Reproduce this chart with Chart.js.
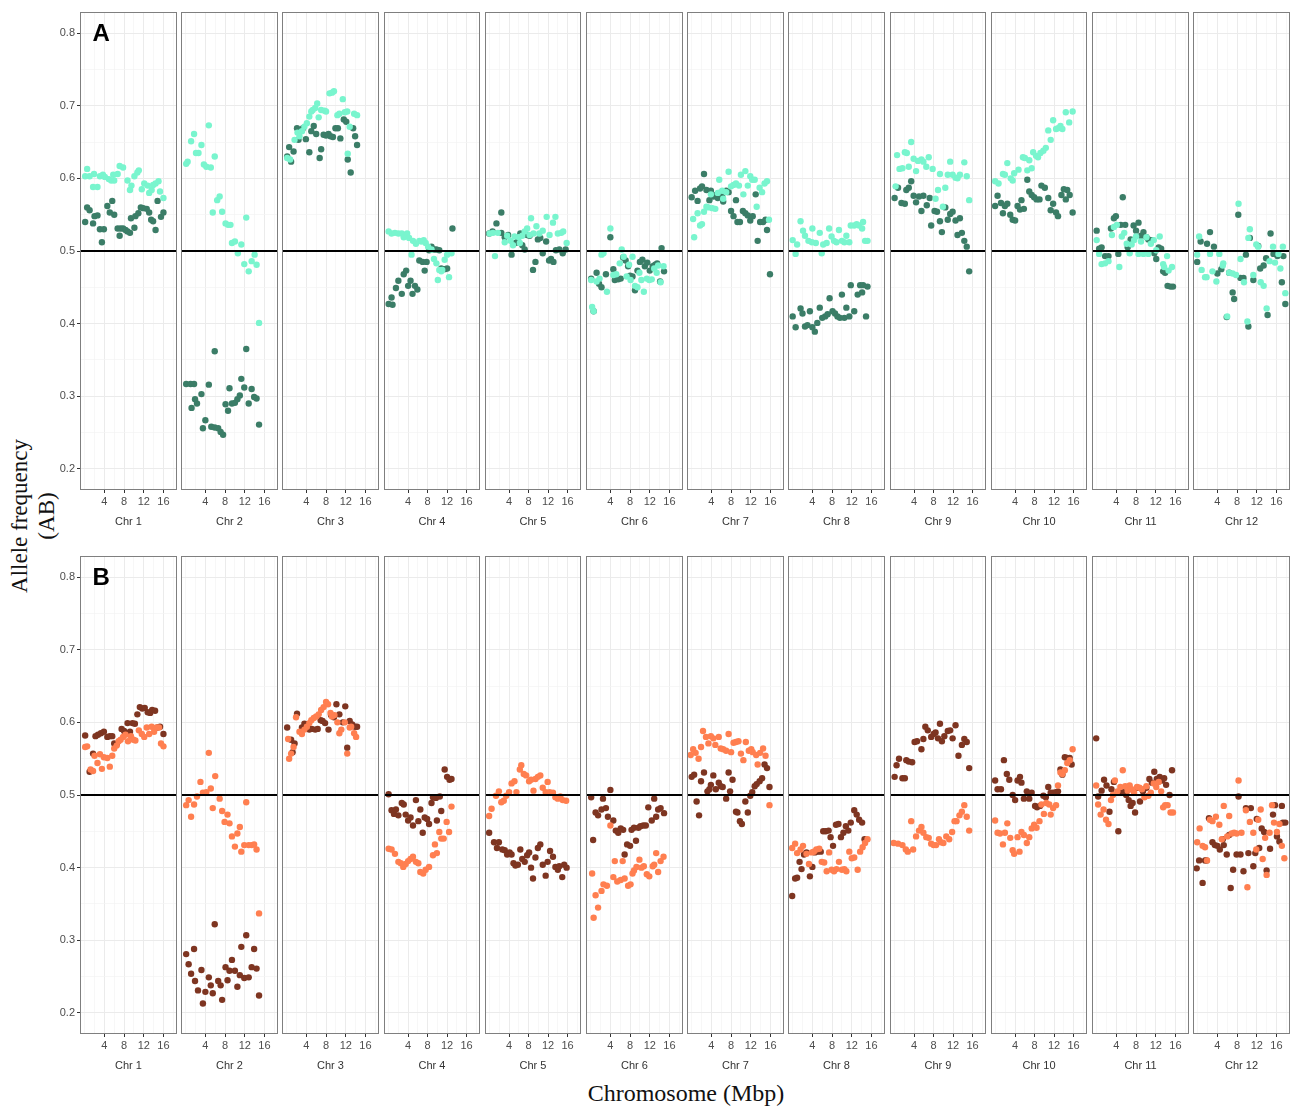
<!DOCTYPE html>
<html>
<head>
<meta charset="utf-8">
<script src="https://cdn.jsdelivr.net/npm/chart.js@4.4.1/dist/chart.umd.min.js"></script>
<style>
  body { margin: 0; background: #fff; }
  #page { position: relative; width: 1291px; height: 1106px; overflow: hidden; background: #fff; }
  .facet { position: absolute; }
  .tag { position: absolute; font: bold 24px/24px "Liberation Sans", Arial, sans-serif; color: #000; }
  .ytitle { position: absolute; left: 33px; top: 516px; transform: translate(-50%, -50%) rotate(-90deg);
            font: 23px/26.5px "Liberation Serif", "Times New Roman", serif; text-align: center; white-space: nowrap; color: #111; }
  .xtitle { position: absolute; left: 686px; top: 1081px; transform: translateX(-50%);
            font: 24px/24px "Liberation Serif", "Times New Roman", serif; white-space: nowrap; color: #111; }
</style>
</head>
<body>
<div id="page">
  <div class="ytitle">Allele frequency<br>(AB)</div>
  <div class="xtitle">Chromosome (Mbp)</div>
</div>
<script>
// ---- axis / category data ----
const chromosomes = ['Chr 1','Chr 2','Chr 3','Chr 4','Chr 5','Chr 6','Chr 7','Chr 8','Chr 9','Chr 10','Chr 11','Chr 12'];
const xGrid = [0, 2, 4, 6, 8, 10, 12, 14, 16, 18];
const xLabels = [4, 8, 12, 16];
const yGrid = [0.2, 0.25, 0.3, 0.35, 0.4, 0.45, 0.5, 0.55, 0.6, 0.65, 0.7, 0.75, 0.8];
const yLabels = [0.2, 0.3, 0.4, 0.5, 0.6, 0.7, 0.8];
const refLine = 0.5;

// ---- panel A : [position Mbp, allele frequency] ----
const a1Light = [[0.5,0.613],[0.1,0.603],[1.0,0.603],[1.9,0.606],[1.7,0.588],[2.6,0.588],[3.1,0.603],[3.7,0.605],[4.1,0.602],[4.9,0.599],[5.4,0.597],[6.0,0.597],[5.8,0.605],[6.7,0.606],[7.1,0.617],[7.8,0.615],[8.7,0.597],[9.2,0.584],[9.5,0.590],[10.1,0.603],[10.7,0.608],[11.0,0.611],[11.6,0.585],[12.1,0.593],[12.8,0.590],[13.1,0.580],[13.6,0.584],[13.9,0.591],[14.4,0.593],[15.0,0.596],[15.3,0.582],[16.0,0.573]];
const a1Dark = [[0.1,0.540],[0.5,0.560],[1.0,0.556],[1.7,0.538],[2.0,0.548],[2.6,0.549],[3.1,0.530],[3.5,0.512],[3.9,0.530],[4.6,0.562],[5.1,0.553],[5.6,0.569],[6.0,0.550],[6.7,0.531],[7.1,0.521],[7.3,0.531],[7.8,0.531],[8.3,0.529],[8.7,0.527],[9.2,0.525],[9.4,0.545],[10.1,0.532],[10.3,0.548],[10.9,0.552],[11.4,0.560],[11.9,0.559],[12.6,0.558],[13.1,0.553],[13.5,0.543],[13.9,0.541],[14.4,0.529],[14.8,0.569],[15.5,0.547],[16.0,0.553]];
const a2Light = [[0.1,0.620],[0.4,0.623],[1.1,0.651],[1.7,0.661],[2.1,0.635],[2.6,0.635],[3.2,0.646],[3.7,0.619],[4.2,0.616],[4.7,0.673],[5.1,0.615],[5.9,0.630],[5.5,0.553],[6.4,0.570],[6.9,0.575],[7.4,0.554],[8.1,0.538],[8.6,0.536],[9.1,0.536],[9.4,0.511],[10.0,0.513],[10.6,0.497],[11.3,0.509],[11.9,0.482],[12.3,0.546],[12.8,0.472],[13.4,0.486],[14.0,0.495],[14.4,0.481],[14.9,0.401]];
const a2Dark = [[0.1,0.317],[1.0,0.317],[1.7,0.317],[1.2,0.284],[1.9,0.296],[2.3,0.290],[3.2,0.303],[4.7,0.316],[4.0,0.267],[3.5,0.256],[5.2,0.258],[5.9,0.257],[5.9,0.362],[6.6,0.256],[7.1,0.251],[7.6,0.247],[8.1,0.289],[8.6,0.280],[8.9,0.311],[9.4,0.290],[10.0,0.291],[10.5,0.296],[11.0,0.301],[11.3,0.324],[11.9,0.312],[12.3,0.365],[12.8,0.290],[13.4,0.310],[13.9,0.299],[14.4,0.297],[14.9,0.261]];
const a3Light = [[0.1,0.628],[0.7,0.626],[1.6,0.653],[2.2,0.663],[2.6,0.658],[3.1,0.665],[3.6,0.671],[4.1,0.676],[4.6,0.685],[5.0,0.692],[5.3,0.694],[5.8,0.697],[6.2,0.703],[6.5,0.684],[7.0,0.694],[7.7,0.693],[8.0,0.692],[8.7,0.717],[9.2,0.718],[9.6,0.720],[10.3,0.687],[10.7,0.689],[11.4,0.709],[11.8,0.691],[12.3,0.692],[12.4,0.634],[12.8,0.671],[13.7,0.689],[14.3,0.687]];
const a3Dark = [[0.1,0.630],[0.5,0.643],[0.9,0.623],[1.4,0.637],[2.1,0.669],[2.4,0.653],[2.8,0.665],[3.3,0.669],[3.9,0.654],[4.6,0.636],[5.0,0.665],[5.5,0.672],[6.0,0.661],[6.7,0.628],[7.0,0.640],[7.5,0.660],[8.0,0.659],[8.5,0.661],[8.9,0.658],[9.4,0.657],[9.9,0.669],[10.4,0.669],[10.9,0.655],[11.6,0.681],[12.1,0.678],[12.4,0.626],[13.0,0.608],[13.5,0.669],[13.9,0.658],[14.3,0.646]];
const a4Light = [[0.0,0.527],[0.6,0.524],[1.3,0.525],[2.0,0.524],[2.7,0.524],[3.1,0.519],[3.8,0.524],[4.2,0.518],[4.7,0.495],[5.0,0.514],[5.6,0.510],[6.3,0.514],[6.7,0.513],[7.2,0.515],[7.6,0.511],[8.1,0.506],[8.8,0.502],[9.3,0.489],[9.8,0.483],[10.1,0.460],[10.4,0.474],[10.8,0.472],[11.0,0.474],[11.5,0.488],[12.0,0.495],[12.4,0.464],[12.9,0.497]];
const a4Dark = [[0.0,0.427],[0.8,0.426],[0.6,0.436],[1.5,0.449],[2.0,0.459],[2.7,0.441],[3.1,0.468],[3.6,0.473],[4.0,0.452],[4.5,0.459],[4.9,0.441],[5.4,0.452],[5.9,0.447],[6.3,0.487],[7.0,0.485],[7.4,0.473],[7.8,0.485],[8.3,0.501],[8.8,0.506],[9.3,0.502],[9.8,0.502],[10.4,0.501],[10.8,0.476],[11.5,0.475],[12.0,0.476],[13.1,0.531]];
const a5Light = [[0.0,0.524],[0.7,0.525],[1.1,0.493],[1.7,0.525],[3.1,0.512],[3.6,0.521],[4.3,0.514],[4.8,0.508],[5.1,0.520],[6.0,0.519],[6.2,0.511],[6.7,0.521],[7.2,0.527],[7.7,0.531],[8.2,0.522],[8.5,0.545],[9.0,0.524],[9.6,0.534],[10.2,0.524],[10.9,0.528],[11.7,0.547],[12.3,0.522],[13.0,0.539],[13.5,0.547],[14.0,0.524],[14.7,0.525],[15.1,0.527],[15.8,0.511]];
const a5Dark = [[-0.1,0.524],[0.6,0.527],[1.4,0.538],[2.4,0.553],[2.4,0.525],[3.1,0.519],[3.8,0.522],[4.5,0.495],[5.3,0.511],[5.8,0.513],[6.3,0.524],[6.7,0.508],[7.2,0.502],[7.7,0.522],[8.2,0.521],[8.9,0.474],[9.4,0.485],[9.9,0.516],[10.4,0.518],[10.9,0.497],[11.6,0.513],[12.2,0.487],[12.6,0.489],[13.1,0.485],[13.6,0.501],[14.3,0.502],[15.0,0.497],[15.6,0.502]];
const a6Light = [[0.3,0.423],[0.6,0.417],[0.1,0.460],[1.2,0.458],[1.8,0.462],[2.2,0.495],[2.6,0.497],[3.3,0.444],[4.0,0.531],[4.6,0.467],[5.2,0.468],[5.9,0.483],[6.3,0.502],[6.7,0.492],[7.3,0.465],[7.8,0.481],[8.1,0.460],[8.5,0.492],[9.0,0.452],[9.5,0.450],[9.9,0.470],[10.3,0.460],[10.8,0.444],[11.4,0.462],[11.9,0.460],[12.4,0.461],[12.9,0.476],[13.4,0.470],[13.7,0.480],[14.2,0.457],[14.8,0.479]];
const a6Dark = [[0.1,0.462],[0.6,0.417],[1.2,0.470],[1.7,0.455],[2.2,0.450],[3.1,0.468],[4.0,0.519],[4.6,0.475],[4.9,0.460],[5.6,0.461],[6.1,0.462],[6.6,0.491],[7.1,0.487],[7.6,0.479],[8.0,0.466],[8.5,0.465],[9.0,0.446],[9.5,0.473],[10.0,0.485],[10.5,0.488],[11.0,0.479],[11.5,0.484],[12.0,0.473],[12.6,0.479],[13.1,0.481],[13.5,0.483],[14.1,0.458],[14.4,0.504],[14.9,0.472]];
const a7Light = [[0.3,0.544],[0.5,0.519],[1.2,0.552],[1.7,0.535],[2.1,0.537],[2.5,0.554],[3.0,0.561],[3.4,0.560],[3.9,0.578],[4.2,0.559],[4.8,0.558],[5.3,0.580],[5.6,0.598],[6.2,0.583],[6.4,0.572],[7.0,0.581],[7.5,0.609],[8.0,0.589],[8.5,0.591],[9.0,0.593],[9.6,0.590],[10.0,0.605],[10.5,0.578],[10.9,0.610],[11.4,0.590],[11.9,0.603],[12.3,0.598],[12.8,0.598],[13.2,0.561],[13.8,0.587],[14.3,0.581],[14.8,0.593],[15.3,0.596],[15.7,0.543]];
const a7Dark = [[0.0,0.574],[0.7,0.583],[1.2,0.569],[1.7,0.586],[2.1,0.589],[2.5,0.606],[3.0,0.584],[3.6,0.570],[3.9,0.583],[4.4,0.575],[4.9,0.577],[5.3,0.573],[5.6,0.580],[6.2,0.575],[6.4,0.568],[7.0,0.583],[7.5,0.581],[8.0,0.555],[8.5,0.548],[9.0,0.570],[9.3,0.540],[9.8,0.540],[10.4,0.555],[10.9,0.552],[11.4,0.549],[11.9,0.542],[12.4,0.548],[13.0,0.578],[13.4,0.514],[13.9,0.540],[14.5,0.540],[15.0,0.543],[15.3,0.529],[15.9,0.468]];
const a8Light = [[0.0,0.515],[0.6,0.496],[0.9,0.509],[1.6,0.541],[2.1,0.528],[2.5,0.521],[3.2,0.514],[3.9,0.512],[4.0,0.531],[4.7,0.511],[5.5,0.525],[5.9,0.497],[6.2,0.509],[6.9,0.511],[7.4,0.531],[7.9,0.520],[8.4,0.514],[8.9,0.512],[9.4,0.529],[10.0,0.514],[10.5,0.512],[10.9,0.521],[11.5,0.512],[11.8,0.535],[12.5,0.535],[13.0,0.537],[13.5,0.535],[14.1,0.531],[14.3,0.540],[14.7,0.514],[15.2,0.514]];
const a8Dark = [[0.0,0.410],[0.6,0.395],[1.6,0.421],[2.0,0.414],[2.5,0.396],[3.0,0.398],[3.5,0.417],[4.0,0.395],[4.5,0.389],[5.0,0.401],[5.5,0.422],[6.0,0.408],[6.6,0.410],[7.1,0.413],[7.5,0.435],[8.1,0.417],[8.6,0.414],[9.1,0.410],[9.6,0.408],[10.0,0.440],[10.5,0.408],[10.9,0.422],[11.5,0.410],[11.8,0.453],[12.5,0.417],[13.2,0.440],[13.7,0.453],[14.1,0.443],[14.3,0.453],[14.9,0.410],[15.2,0.451]];
const a9Light = [[0.2,0.589],[0.5,0.632],[1.0,0.613],[1.6,0.614],[2.1,0.636],[2.5,0.635],[2.9,0.616],[3.4,0.650],[3.9,0.627],[4.4,0.610],[4.8,0.624],[5.5,0.626],[5.9,0.623],[6.5,0.616],[7.0,0.629],[7.8,0.613],[8.4,0.572],[8.9,0.584],[9.3,0.606],[9.9,0.561],[10.4,0.587],[10.9,0.605],[11.4,0.623],[11.9,0.605],[12.5,0.601],[12.9,0.600],[13.4,0.605],[14.3,0.622],[14.8,0.603],[15.3,0.570]];
const a9Dark = [[0.0,0.573],[0.7,0.587],[1.4,0.566],[2.1,0.565],[2.4,0.584],[2.9,0.587],[3.4,0.596],[3.9,0.576],[4.4,0.567],[5.0,0.575],[5.5,0.555],[5.9,0.576],[6.6,0.563],[7.2,0.573],[7.5,0.535],[8.2,0.555],[8.7,0.554],[9.3,0.541],[9.7,0.526],[10.4,0.560],[10.9,0.543],[11.4,0.551],[11.9,0.554],[12.5,0.542],[12.9,0.522],[13.4,0.545],[13.8,0.525],[14.3,0.514],[14.8,0.506],[15.3,0.472]];
const a10Light = [[-0.1,0.596],[0.6,0.593],[1.5,0.606],[1.9,0.605],[2.4,0.621],[3.1,0.600],[3.5,0.597],[3.8,0.607],[4.7,0.612],[5.6,0.629],[6.0,0.628],[6.5,0.611],[6.9,0.625],[7.4,0.614],[7.7,0.636],[8.3,0.631],[8.7,0.629],[9.2,0.635],[9.8,0.638],[10.3,0.642],[10.8,0.666],[11.3,0.653],[11.8,0.680],[12.4,0.668],[12.8,0.669],[13.3,0.672],[13.7,0.668],[14.4,0.691],[15.1,0.677],[15.8,0.692]];
const a10Dark = [[-0.1,0.562],[0.4,0.576],[1.1,0.566],[1.5,0.552],[1.9,0.562],[2.4,0.565],[3.0,0.550],[3.5,0.543],[4.0,0.542],[4.5,0.562],[5.0,0.557],[5.3,0.570],[5.8,0.558],[6.5,0.598],[6.9,0.582],[7.4,0.577],[7.9,0.574],[8.4,0.571],[9.0,0.571],[9.4,0.590],[10.1,0.587],[10.8,0.573],[11.3,0.556],[11.8,0.565],[12.4,0.553],[12.8,0.548],[13.5,0.577],[14.0,0.585],[14.4,0.571],[14.7,0.584],[15.2,0.577],[15.8,0.553]];
const a11Light = [[0.0,0.515],[0.5,0.496],[1.0,0.482],[1.7,0.483],[2.4,0.486],[3.1,0.522],[3.5,0.533],[4.1,0.536],[4.6,0.478],[5.1,0.520],[5.6,0.525],[6.1,0.510],[6.7,0.497],[7.1,0.509],[7.6,0.515],[8.0,0.520],[8.5,0.496],[9.0,0.513],[9.5,0.496],[10.1,0.519],[10.5,0.496],[11.0,0.510],[11.6,0.515],[12.1,0.501],[12.8,0.520],[13.5,0.482],[13.7,0.478],[14.3,0.493],[14.6,0.473],[15.3,0.478]];
const a11Dark = [[0.0,0.528],[0.5,0.503],[1.0,0.505],[1.7,0.493],[2.4,0.493],[2.9,0.531],[3.5,0.545],[3.9,0.548],[4.4,0.496],[4.9,0.536],[5.3,0.574],[5.8,0.536],[6.3,0.505],[6.9,0.516],[7.5,0.535],[8.0,0.528],[8.5,0.539],[9.0,0.521],[9.5,0.526],[10.1,0.519],[10.5,0.516],[11.2,0.515],[11.7,0.497],[12.1,0.489],[12.6,0.505],[13.1,0.503],[13.5,0.472],[13.9,0.470],[14.4,0.452],[15.0,0.451],[15.5,0.451]];
const a12Light = [[-0.1,0.495],[0.3,0.520],[0.8,0.474],[1.5,0.464],[1.8,0.464],[2.5,0.496],[3.0,0.472],[3.8,0.458],[4.4,0.496],[5.1,0.480],[5.2,0.483],[6.0,0.410],[6.4,0.470],[7.1,0.469],[7.8,0.467],[8.3,0.565],[8.7,0.489],[9.4,0.457],[10.1,0.403],[10.3,0.518],[10.6,0.530],[11.3,0.467],[11.9,0.509],[12.3,0.506],[12.8,0.457],[13.4,0.452],[14.0,0.421],[14.6,0.486],[15.3,0.506],[15.7,0.484],[16.4,0.496],[16.8,0.476],[17.3,0.506],[17.8,0.442]];
const a12Dark = [[-0.1,0.485],[0.6,0.513],[1.9,0.510],[2.5,0.526],[3.3,0.506],[4.0,0.469],[4.8,0.475],[5.9,0.409],[6.4,0.470],[7.1,0.443],[7.4,0.434],[8.25,0.550],[8.7,0.463],[9.3,0.463],[9.8,0.495],[10.3,0.396],[10.6,0.518],[11.3,0.460],[12.3,0.507],[12.7,0.476],[13.4,0.480],[13.9,0.490],[14.2,0.412],[14.8,0.524],[15.4,0.496],[16.2,0.493],[17.1,0.457],[17.4,0.493],[17.8,0.427]];

// ---- panel B ----
const b1Light = [[0.1,0.566],[0.5,0.567],[1.2,0.535],[1.7,0.533],[2.0,0.554],[2.6,0.544],[3.1,0.556],[3.5,0.536],[3.9,0.552],[4.6,0.551],[5.1,0.539],[5.6,0.554],[6.0,0.564],[6.5,0.568],[6.9,0.574],[7.3,0.576],[7.8,0.580],[8.3,0.583],[8.8,0.574],[9.4,0.581],[9.9,0.576],[10.3,0.575],[11.0,0.589],[11.6,0.584],[12.1,0.580],[12.6,0.593],[13.1,0.584],[13.6,0.594],[14.1,0.587],[14.6,0.593],[15.1,0.593],[15.5,0.571],[16.0,0.567]];
const b1Dark = [[0.1,0.582],[1.0,0.532],[1.7,0.557],[2.2,0.581],[2.7,0.583],[3.3,0.585],[3.9,0.587],[4.6,0.580],[5.1,0.581],[5.6,0.581],[6.0,0.571],[6.5,0.570],[7.5,0.591],[8.0,0.588],[8.7,0.599],[9.2,0.587],[9.7,0.599],[10.2,0.598],[10.7,0.611],[11.2,0.621],[11.7,0.619],[12.2,0.620],[12.8,0.614],[13.3,0.613],[13.7,0.617],[14.3,0.616],[14.8,0.593],[15.3,0.594],[16.0,0.584]];
const b2Light = [[0.1,0.486],[0.6,0.493],[1.1,0.470],[1.7,0.487],[2.3,0.498],[3.0,0.518],[3.5,0.503],[4.2,0.504],[4.7,0.558],[5.1,0.509],[5.5,0.482],[6.0,0.526],[6.9,0.495],[7.4,0.478],[7.9,0.463],[8.5,0.473],[8.9,0.461],[9.4,0.443],[10.0,0.429],[10.5,0.447],[11.0,0.456],[11.3,0.422],[11.9,0.431],[12.3,0.490],[12.8,0.431],[13.4,0.431],[13.9,0.432],[14.4,0.425],[14.9,0.337]];
const b2Dark = [[0.1,0.281],[0.6,0.267],[1.1,0.254],[1.7,0.288],[1.9,0.244],[2.5,0.231],[3.2,0.259],[3.5,0.213],[4.0,0.229],[4.7,0.249],[5.1,0.238],[5.5,0.227],[5.9,0.322],[6.6,0.244],[7.1,0.238],[7.4,0.218],[8.1,0.263],[8.5,0.245],[8.9,0.258],[9.4,0.273],[10.0,0.258],[10.5,0.236],[11.0,0.252],[11.3,0.291],[11.9,0.248],[12.3,0.307],[12.8,0.249],[13.4,0.263],[13.9,0.288],[14.4,0.261],[14.9,0.224]];
const b3Light = [[0.3,0.577],[0.5,0.550],[0.9,0.557],[1.4,0.566],[1.9,0.607],[2.6,0.587],[3.1,0.584],[3.6,0.590],[4.1,0.594],[4.6,0.599],[5.0,0.603],[5.5,0.606],[6.0,0.608],[6.5,0.611],[7.0,0.617],[7.5,0.621],[8.0,0.628],[8.4,0.625],[8.9,0.613],[9.2,0.608],[9.7,0.610],[10.3,0.600],[10.7,0.585],[11.1,0.590],[11.8,0.600],[12.3,0.557],[12.8,0.593],[13.1,0.594],[13.7,0.585],[14.1,0.580]];
const b3Dark = [[0.1,0.593],[0.9,0.576],[1.2,0.559],[1.6,0.571],[2.1,0.612],[3.1,0.593],[3.6,0.598],[4.1,0.597],[4.6,0.590],[5.1,0.591],[5.8,0.590],[6.3,0.591],[6.9,0.603],[7.3,0.602],[7.8,0.599],[8.5,0.590],[9.0,0.610],[9.6,0.607],[10.1,0.625],[10.7,0.611],[11.4,0.600],[11.9,0.622],[12.3,0.565],[12.8,0.602],[13.3,0.597],[13.9,0.594],[14.3,0.594]];
const b4Light = [[0.0,0.426],[0.6,0.425],[1.3,0.419],[2.0,0.408],[2.5,0.406],[3.0,0.401],[3.5,0.405],[4.0,0.409],[4.5,0.412],[5.0,0.415],[5.6,0.408],[6.1,0.406],[6.5,0.394],[7.1,0.392],[7.6,0.397],[8.3,0.401],[9.1,0.417],[9.5,0.432],[9.9,0.420],[10.4,0.449],[10.8,0.440],[11.3,0.440],[11.9,0.463],[12.4,0.449],[12.9,0.484]];
const b4Dark = [[0.0,0.501],[0.6,0.479],[1.1,0.474],[1.5,0.480],[2.0,0.472],[2.7,0.489],[3.1,0.487],[3.5,0.473],[4.0,0.465],[4.5,0.469],[5.0,0.458],[5.6,0.493],[6.1,0.464],[6.5,0.480],[7.0,0.448],[7.4,0.469],[7.9,0.467],[8.3,0.460],[8.8,0.489],[9.1,0.497],[9.7,0.496],[9.9,0.465],[10.5,0.498],[10.8,0.478],[11.5,0.535],[12.0,0.525],[12.5,0.521],[12.9,0.522]];
const b5Light = [[-0.1,0.471],[0.4,0.481],[1.3,0.499],[1.9,0.505],[2.4,0.490],[2.9,0.492],[3.4,0.499],[4.0,0.504],[4.5,0.516],[5.1,0.519],[5.5,0.504],[6.2,0.535],[6.5,0.541],[7.0,0.529],[7.5,0.527],[8.1,0.519],[8.5,0.521],[9.0,0.506],[9.4,0.522],[9.9,0.525],[10.4,0.527],[10.9,0.510],[11.5,0.504],[11.9,0.518],[12.3,0.504],[13.0,0.503],[13.5,0.497],[14.0,0.495],[14.5,0.498],[15.0,0.493],[15.7,0.492]];
const b5Dark = [[-0.1,0.448],[0.9,0.435],[1.5,0.427],[1.9,0.435],[2.6,0.425],[3.1,0.424],[3.6,0.418],[4.1,0.421],[4.5,0.418],[4.9,0.406],[5.3,0.403],[5.8,0.404],[6.3,0.425],[6.7,0.412],[7.2,0.408],[7.7,0.417],[8.1,0.421],[8.5,0.400],[8.9,0.385],[9.4,0.414],[9.9,0.427],[10.4,0.432],[10.9,0.404],[11.5,0.389],[11.9,0.408],[12.4,0.423],[13.0,0.415],[13.5,0.401],[14.0,0.397],[14.3,0.402],[14.9,0.387],[15.3,0.404],[15.8,0.400]];
const b6Light = [[0.3,0.392],[0.6,0.331],[1.0,0.362],[1.5,0.345],[2.2,0.368],[2.6,0.377],[3.3,0.375],[4.0,0.458],[4.6,0.387],[4.9,0.409],[5.4,0.381],[6.1,0.383],[6.5,0.409],[6.9,0.385],[7.6,0.375],[8.1,0.377],[8.5,0.392],[8.8,0.396],[9.3,0.401],[9.9,0.411],[10.3,0.400],[10.8,0.402],[11.4,0.391],[11.9,0.388],[12.6,0.402],[12.9,0.404],[13.3,0.420],[13.7,0.394],[14.2,0.409],[14.8,0.415]];
const b6Dark = [[0.1,0.497],[0.5,0.438],[1.0,0.476],[1.5,0.472],[2.2,0.480],[2.5,0.495],[3.1,0.482],[3.5,0.470],[4.0,0.507],[4.6,0.465],[5.1,0.451],[5.6,0.448],[6.1,0.454],[6.6,0.452],[6.9,0.418],[7.4,0.432],[8.0,0.430],[8.3,0.452],[8.8,0.455],[9.2,0.437],[9.7,0.455],[10.1,0.457],[10.7,0.458],[11.2,0.458],[11.7,0.483],[12.4,0.465],[12.9,0.495],[13.3,0.470],[13.7,0.480],[14.2,0.482],[14.9,0.475]];
const b7Light = [[-0.2,0.555],[0.3,0.563],[0.8,0.558],[1.4,0.550],[1.9,0.566],[2.3,0.588],[2.9,0.580],[3.4,0.571],[3.9,0.581],[4.4,0.578],[4.8,0.569],[5.5,0.580],[5.9,0.564],[6.4,0.563],[7.0,0.561],[7.5,0.584],[8.0,0.559],[8.5,0.572],[9.0,0.573],[9.5,0.574],[10.0,0.557],[10.5,0.548],[11.0,0.573],[11.6,0.561],[12.1,0.563],[12.4,0.559],[13.1,0.555],[13.4,0.542],[13.9,0.558],[14.5,0.564],[15.0,0.554],[15.8,0.486]];
const b7Dark = [[0.0,0.525],[0.5,0.528],[1.0,0.491],[1.5,0.472],[1.9,0.519],[2.5,0.531],[3.2,0.505],[3.6,0.508],[3.9,0.514],[4.4,0.527],[4.9,0.508],[5.5,0.517],[5.9,0.512],[6.3,0.511],[7.0,0.495],[7.5,0.531],[7.8,0.505],[8.3,0.521],[9.0,0.477],[9.3,0.476],[9.8,0.464],[10.2,0.460],[10.9,0.491],[11.4,0.476],[11.9,0.499],[12.3,0.504],[12.8,0.512],[13.2,0.515],[13.8,0.519],[14.3,0.523],[14.8,0.542],[15.3,0.537],[15.8,0.511]];
const b8Light = [[-0.1,0.427],[0.5,0.433],[0.9,0.420],[1.6,0.425],[2.1,0.430],[2.8,0.419],[3.3,0.405],[3.9,0.421],[4.3,0.422],[4.8,0.425],[5.4,0.426],[5.9,0.408],[6.4,0.407],[6.9,0.395],[7.4,0.421],[7.9,0.397],[8.4,0.395],[8.9,0.398],[9.4,0.408],[10.0,0.397],[10.5,0.398],[10.9,0.395],[11.5,0.422],[12.0,0.413],[12.5,0.414],[13.2,0.397],[13.7,0.422],[14.2,0.428],[14.7,0.434],[15.2,0.439]];
const b8Dark = [[-0.1,0.361],[0.5,0.385],[0.9,0.386],[1.4,0.408],[1.8,0.398],[2.3,0.418],[2.8,0.421],[3.5,0.388],[4.0,0.401],[4.5,0.421],[5.0,0.422],[5.7,0.422],[6.2,0.450],[6.7,0.450],[7.3,0.451],[7.7,0.442],[8.2,0.430],[8.8,0.459],[9.3,0.460],[9.8,0.442],[10.3,0.448],[10.8,0.457],[11.3,0.451],[11.8,0.462],[12.5,0.479],[13.0,0.473],[13.5,0.466],[14.1,0.462],[14.6,0.439]];
const b9Light = [[-0.2,0.434],[0.7,0.433],[1.6,0.431],[2.3,0.425],[2.7,0.422],[3.4,0.464],[3.8,0.425],[4.4,0.443],[5.0,0.451],[5.5,0.456],[5.9,0.448],[6.5,0.442],[7.0,0.441],[7.5,0.433],[8.0,0.431],[8.5,0.431],[9.1,0.439],[9.5,0.435],[10.0,0.434],[10.6,0.443],[11.2,0.439],[11.8,0.449],[12.3,0.464],[12.7,0.464],[13.3,0.472],[13.8,0.477],[14.3,0.486],[14.8,0.470],[15.3,0.451]];
const b9Dark = [[0.0,0.525],[0.4,0.541],[0.9,0.550],[1.6,0.523],[2.1,0.523],[2.4,0.548],[2.9,0.546],[3.6,0.545],[4.1,0.573],[4.6,0.574],[5.5,0.563],[5.9,0.577],[6.3,0.594],[6.8,0.589],[7.5,0.580],[8.0,0.584],[8.4,0.586],[8.9,0.578],[9.3,0.598],[9.7,0.574],[10.2,0.581],[10.9,0.588],[11.4,0.589],[11.9,0.578],[12.5,0.596],[13.1,0.554],[13.8,0.569],[14.3,0.577],[14.8,0.573],[15.3,0.537]];
const b10Light = [[-0.1,0.465],[0.4,0.448],[0.9,0.447],[1.5,0.432],[1.9,0.448],[2.4,0.461],[3.0,0.441],[3.5,0.424],[3.8,0.419],[4.5,0.442],[4.9,0.422],[5.3,0.449],[5.8,0.445],[6.4,0.434],[6.9,0.442],[7.4,0.454],[7.9,0.459],[8.4,0.455],[9.0,0.464],[9.4,0.487],[9.9,0.474],[10.4,0.489],[11.0,0.487],[11.3,0.473],[11.8,0.482],[12.4,0.486],[12.8,0.513],[13.3,0.531],[13.7,0.529],[14.2,0.534],[14.7,0.544],[15.2,0.548],[15.8,0.563]];
const b10Dark = [[-0.1,0.520],[0.4,0.508],[1.1,0.508],[1.7,0.548],[2.3,0.529],[2.8,0.521],[3.5,0.500],[4.0,0.493],[4.5,0.520],[5.0,0.525],[5.3,0.517],[5.8,0.495],[6.4,0.505],[6.9,0.495],[7.4,0.503],[8.1,0.485],[8.5,0.483],[9.1,0.485],[9.8,0.499],[10.3,0.497],[10.8,0.511],[11.3,0.503],[11.8,0.503],[12.4,0.504],[12.8,0.505],[13.3,0.535],[13.7,0.528],[14.2,0.552],[14.7,0.551],[15.2,0.551],[15.6,0.542]];
const b11Light = [[-0.1,0.513],[0.3,0.487],[0.8,0.473],[1.4,0.480],[1.9,0.466],[2.4,0.460],[2.9,0.493],[3.3,0.500],[3.7,0.520],[4.2,0.505],[4.8,0.511],[5.3,0.534],[5.8,0.512],[6.3,0.506],[6.7,0.513],[7.1,0.508],[7.6,0.503],[8.2,0.511],[8.7,0.510],[9.2,0.508],[9.7,0.497],[10.1,0.512],[10.5,0.499],[11.0,0.503],[11.6,0.516],[12.1,0.511],[12.6,0.518],[13.1,0.505],[13.5,0.483],[13.9,0.486],[14.4,0.486],[15.0,0.476],[15.5,0.476]];
const b11Dark = [[-0.1,0.578],[0.3,0.498],[1.0,0.506],[1.5,0.521],[2.0,0.513],[2.6,0.477],[3.0,0.508],[3.5,0.518],[4.4,0.450],[4.9,0.503],[5.4,0.504],[6.0,0.500],[6.5,0.493],[6.9,0.485],[7.3,0.489],[7.8,0.476],[8.3,0.510],[8.8,0.491],[9.4,0.505],[10.1,0.510],[10.7,0.522],[11.2,0.517],[11.7,0.532],[12.2,0.522],[12.8,0.525],[13.3,0.520],[13.7,0.523],[14.1,0.514],[14.8,0.500],[15.3,0.534]];
const b12Light = [[-0.1,0.435],[0.4,0.454],[1.0,0.430],[1.5,0.428],[1.9,0.410],[2.5,0.466],[3.0,0.464],[3.7,0.470],[4.4,0.459],[4.9,0.439],[5.3,0.485],[6.0,0.443],[6.4,0.471],[6.9,0.447],[7.4,0.448],[7.9,0.447],[8.3,0.520],[8.9,0.448],[9.8,0.479],[10.1,0.373],[10.6,0.463],[11.3,0.448],[11.9,0.425],[12.3,0.466],[12.8,0.480],[13.2,0.412],[13.7,0.441],[14.0,0.390],[14.6,0.448],[15.1,0.486],[15.5,0.462],[16.1,0.449],[16.6,0.460],[17.1,0.430],[17.6,0.413]];
const b12Dark = [[-0.2,0.399],[0.3,0.410],[1.0,0.379],[1.5,0.410],[1.8,0.410],[2.3,0.468],[3.0,0.435],[3.5,0.431],[4.0,0.430],[4.5,0.425],[5.1,0.439],[5.3,0.431],[5.9,0.418],[6.4,0.445],[6.7,0.372],[7.2,0.397],[7.9,0.418],[8.3,0.498],[8.7,0.418],[9.3,0.395],[9.8,0.482],[10.3,0.420],[10.8,0.482],[11.3,0.402],[11.7,0.420],[12.0,0.467],[12.5,0.427],[13.0,0.454],[13.5,0.449],[14.0,0.396],[14.7,0.426],[15.3,0.473],[15.7,0.486],[16.1,0.443],[16.6,0.436],[17.1,0.485],[17.3,0.462],[17.8,0.462]];

// ---- layout ----
const FACET_LEFT = 80, FACET_PITCH = 101.2, FACET_W = 96.5;
const PLOT_H = 478, AXIS_H = 45;
const X_MIN = -0.95, X_MAX = 18.75, Y_MIN = 0.171, Y_MAX = 0.829;
const SANS = '"Liberation Sans", Arial, sans-serif';

const panels = [
  { tag: 'A', top: 12, light: [a1Light,a2Light,a3Light,a4Light,a5Light,a6Light,a7Light,a8Light,a9Light,a10Light,a11Light,a12Light],
    dark: [a1Dark,a2Dark,a3Dark,a4Dark,a5Dark,a6Dark,a7Dark,a8Dark,a9Dark,a10Dark,a11Dark,a12Dark],
    lightColor: '#79F5CE', darkColor: '#3B7D67' },
  { tag: 'B', top: 556, light: [b1Light,b2Light,b3Light,b4Light,b5Light,b6Light,b7Light,b8Light,b9Light,b10Light,b11Light,b12Light],
    dark: [b1Dark,b2Dark,b3Dark,b4Dark,b5Dark,b6Dark,b7Dark,b8Dark,b9Dark,b10Dark,b11Dark,b12Dark],
    lightColor: '#FF7F50', darkColor: '#7E3521' }
];

const near = (v, list) => list.some(t => Math.abs(t - v) < 1e-9);

// black 0.5 line + panel border
const framePlugin = {
  id: 'frame',
  afterDatasetsDraw(chart) {
    const { ctx, chartArea: a, scales } = chart;
    const py = scales.y.getPixelForValue(refLine);
    ctx.save();
    ctx.strokeStyle = '#000';
    ctx.lineWidth = 2.2;
    ctx.beginPath();
    ctx.moveTo(a.left, py);
    ctx.lineTo(a.right, py);
    ctx.stroke();
    ctx.strokeStyle = '#7f7f7f';
    ctx.lineWidth = 1;
    ctx.strokeRect(a.left + 0.5, a.top + 0.5, a.right - a.left - 1, a.bottom - a.top - 1);
    ctx.restore();
  }
};

const page = document.getElementById('page');
const toPts = arr => arr.map(p => ({ x: p[0], y: p[1] }));

panels.forEach(panel => {
  const tag = document.createElement('div');
  tag.className = 'tag';
  tag.textContent = panel.tag;
  tag.style.left = '92.5px';
  tag.style.top = (panel.top + 8.5) + 'px';

  chromosomes.forEach((chr, i) => {
    const first = i === 0;
    const plotLeft = Math.round(FACET_LEFT + FACET_PITCH * i);
    const plotRight = Math.round(FACET_LEFT + FACET_PITCH * i + FACET_W);
    const left = first ? 0 : plotLeft;
    const width = plotRight - left;
    const height = PLOT_H + AXIS_H;

    const box = document.createElement('div');
    box.className = 'facet';
    box.style.left = left + 'px';
    box.style.top = panel.top + 'px';
    box.style.width = width + 'px';
    box.style.height = height + 'px';
    const canvas = document.createElement('canvas');
    canvas.width = width;
    canvas.height = height;
    box.appendChild(canvas);
    page.appendChild(box);

    new Chart(canvas, {
      type: 'scatter',
      data: {
        datasets: [
          { data: toPts(panel.light[i]), backgroundColor: panel.lightColor, pointRadius: 3.2, borderWidth: 0 },
          { data: toPts(panel.dark[i]), backgroundColor: panel.darkColor, pointRadius: 3.2, borderWidth: 0 }
        ]
      },
      options: {
        responsive: false,
        animation: false,
        events: [],
        layout: { autoPadding: false, padding: 0 },
        elements: { point: { hoverRadius: 0 } },
        plugins: { legend: { display: false }, tooltip: { enabled: false } },
        scales: {
          x: {
            type: 'linear', position: 'bottom', min: X_MIN, max: X_MAX,
            afterBuildTicks: s => { s.ticks = xGrid.map(v => ({ value: v })); },
            afterFit: s => { s.height = AXIS_H; s.paddingLeft = 0; s.paddingRight = 0; },
            border: { display: false },
            grid: {
              color: c => (c.tick && near(c.tick.value, xLabels)) ? '#ebebeb' : '#f4f4f4',
              lineWidth: c => (c.tick && near(c.tick.value, xLabels)) ? 1 : 0.7,
              tickColor: c => (c.tick && near(c.tick.value, xLabels)) ? '#333' : 'rgba(0,0,0,0)',
              tickLength: 3, tickWidth: 1
            },
            ticks: {
              autoSkip: false, maxRotation: 0, minRotation: 0, padding: 2,
              color: '#4d4d4d', font: { family: SANS, size: 11 },
              callback: v => near(v, xLabels) ? String(v) : ''
            },
            title: { display: true, text: chr, color: '#333', font: { family: SANS, size: 11 }, padding: { top: 0, bottom: 6.7 } }
          },
          y: {
            type: 'linear', position: 'left', min: Y_MIN, max: Y_MAX,
            afterBuildTicks: s => { s.ticks = yGrid.map(v => ({ value: v })); },
            afterFit: s => { s.width = first ? plotLeft : 0; s.paddingTop = 0; s.paddingBottom = 0; },
            border: { display: false },
            grid: {
              color: c => (c.tick && near(c.tick.value, yLabels)) ? '#ebebeb' : '#f4f4f4',
              lineWidth: c => (c.tick && near(c.tick.value, yLabels)) ? 1 : 0.7,
              tickColor: c => (c.tick && near(c.tick.value, yLabels)) ? '#333' : 'rgba(0,0,0,0)',
              drawTicks: first, tickLength: 3, tickWidth: 1
            },
            ticks: {
              display: first, autoSkip: false, padding: 2,
              color: '#4d4d4d', font: { family: SANS, size: 11 },
              callback: v => near(v, yLabels) ? v.toFixed(1) : ''
            }
          }
        }
      },
      plugins: [framePlugin]
    });
  });

  page.appendChild(tag);
});
</script>
</body>
</html>
